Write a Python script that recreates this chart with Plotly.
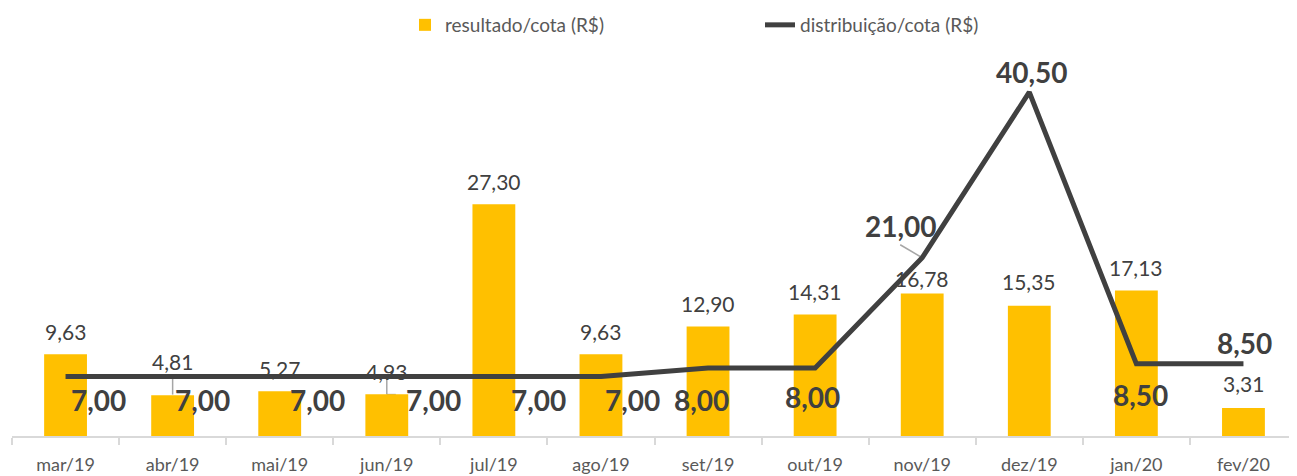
import plotly.graph_objects as go

months = ["mar/19", "abr/19", "mai/19", "jun/19", "jul/19", "ago/19",
          "set/19", "out/19", "nov/19", "dez/19", "jan/20", "fev/20"]
resultado = [9.63, 4.81, 5.27, 4.93, 27.30, 9.63, 12.90, 14.31, 16.78, 15.35, 17.13, 3.31]
distribuicao = [7.00, 7.00, 7.00, 7.00, 7.00, 7.00, 8.00, 8.00, 21.00, 40.50, 8.50, 8.50]

# label offsets in pixels (presentation only)
bar_dy = [23, 34, 23, 23, 23, 23, 23, 23, 15, 24, 23, 24]
line_dx = [33, 30, 38, 47, 45, 32, -7, -3, -21, 3, 4, 1]
line_dy = [-23, -23, -23, -23, -23, -23, -32, -29, 32, 20, -31, 21]

YELLOW = "#FFC000"
DARK = "#404040"
FONT = "Lato"


def fmt(v):
    return f"{v:.2f}".replace(".", ",")


fig = go.Figure()
fig.add_trace(go.Bar(
    x=months, y=resultado, name="resultado/cota (R$)",
    marker=dict(color=YELLOW, line=dict(width=0)), width=0.4,
))
fig.add_trace(go.Scatter(
    x=months, y=distribuicao, name="distribuição/cota (R$)",
    mode="lines", line=dict(color=DARK, width=5),
))

for m, v, dy in zip(months, resultado, bar_dy):
    fig.add_annotation(x=m, y=v, text=fmt(v), showarrow=False, yshift=dy,
                       font=dict(family=FONT, size=21, color=DARK))

for m, v, dx, dy in zip(months, distribuicao, line_dx, line_dy):
    fig.add_annotation(x=m, y=v, text="<b>" + fmt(v) + "</b>", showarrow=False,
                       xshift=dx, yshift=dy,
                       font=dict(family=FONT, size=28, color=DARK))

# leader lines (pixel-sized shapes anchored at data points)
leaders = [
    (1, [(0, 0, 0, -18)]),
    (3, [(0, 0, 0, -18), (0, -18, 9, -18)]),
    (4, [(0, 0, 0, -21), (0, -21, 9, -21)]),
    (8, [(0, 0, -22, 13)]),
]
for idx, segs in leaders:
    for x0, y0, x1, y1 in segs:
        fig.add_shape(type="line", xref="x", yref="y",
                      xsizemode="pixel", ysizemode="pixel",
                      xanchor=months[idx], yanchor=distribuicao[idx],
                      x0=x0, x1=x1, y0=y0, y1=y1,
                      line=dict(color="#A6A6A6", width=1.5), layer="below")

fig.update_layout(
    width=1289, height=468,
    margin=dict(l=4, r=0, t=45.5, b=40),
    plot_bgcolor="white", paper_bgcolor="white",
    font=dict(family=FONT, color="#595959"),
    showlegend=True,
    legend=dict(orientation="h", xref="container", yref="container",
                x=0.308, y=0.9637, xanchor="left", yanchor="middle",
                font=dict(family=FONT, size=19, color="#595959"),
                entrywidth=310, entrywidthmode="pixels",
                bgcolor="rgba(0,0,0,0)"),
    bargap=0.6,
)
fig.update_xaxes(type="category", tickson="boundaries", ticks="outside",
                 ticklen=7, tickcolor="#D9D9D9", tickwidth=1.5,
                 showline=True, linecolor="#D9D9D9", linewidth=2,
                 showgrid=False, tickfont=dict(family=FONT, size=18, color="#595959"),
                 ticklabelstandoff=11,
                 range=[-0.5, 11.5])
fig.update_yaxes(visible=False, range=[0, 45], showgrid=False, zeroline=False)

fig.write_html("out.html")
